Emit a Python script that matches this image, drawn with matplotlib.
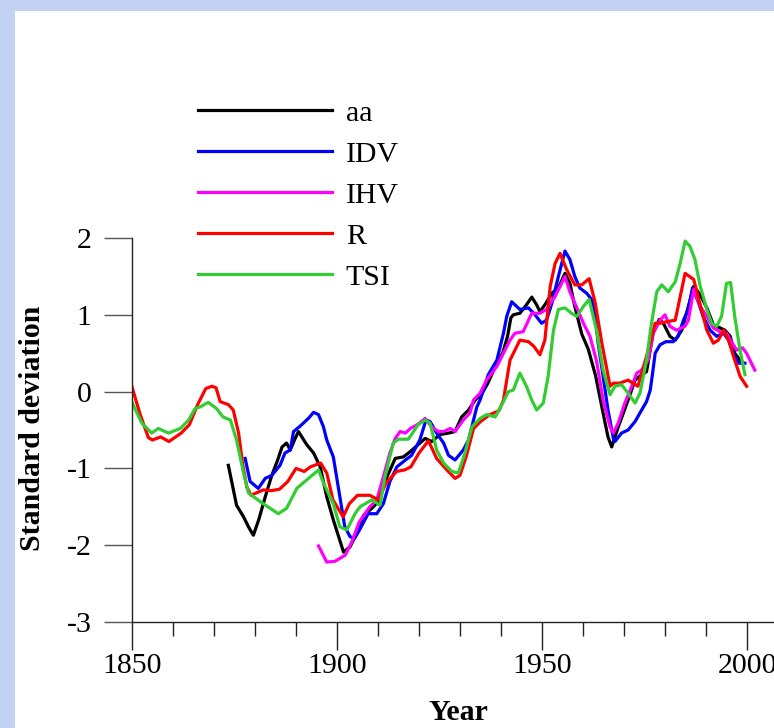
import matplotlib
matplotlib.use("Agg")
import matplotlib.pyplot as plt
from matplotlib.patches import Rectangle
from matplotlib.ticker import MultipleLocator

plt.rcParams['font.family'] = ['Liberation Serif', 'DejaVu Serif']
plt.rcParams['axes.unicode_minus'] = False

# values (year, standard deviation)
aa_years = [1873.5, 1875.5, 1877.2, 1878.4, 1879.6, 1880.9, 1882.5, 1884.1, 1885.4, 1886.6,
            1887.7, 1888.6, 1889.8, 1890.6, 1892.6, 1894.3, 1895.9, 1897.5, 1899.1, 1901.6,
            1903.2, 1905.2, 1906.5, 1908.5, 1910.1, 1912.2, 1914.2, 1916.2, 1917.9, 1919.8,
            1921.5, 1923.1, 1925.1, 1927.2, 1928.8, 1930.4, 1932.1, 1933.7, 1935.2, 1936.8,
            1938.8, 1940.4, 1941.6, 1942.4, 1943.0, 1944.6, 1946.2, 1947.5, 1948.7, 1949.5,
            1950.7, 1952.4, 1954.0, 1955.6, 1956.8, 1958.0, 1959.7, 1961.3, 1963.1, 1964.9,
            1966.1, 1967.0, 1968.6, 1971.0, 1972.7, 1974.3, 1975.5, 1977.1, 1978.6, 1979.6,
            1981.2, 1982.5, 1984.1, 1985.7, 1987.0, 1988.6, 1990.2, 1991.8, 1993.4, 1994.6,
            1995.9, 1997.0, 1998.3, 1998.8]
aa_vals = [-0.96, -1.48, -1.63, -1.76, -1.87, -1.67, -1.37, -1.09, -0.91, -0.72,
           -0.67, -0.76, -0.61, -0.52, -0.69, -0.80, -0.98, -1.37, -1.67, -2.09,
           -2.02, -1.80, -1.61, -1.52, -1.43, -1.11, -0.87, -0.85, -0.78, -0.69,
           -0.61, -0.65, -0.56, -0.54, -0.52, -0.33, -0.24, -0.11, -0.04, 0.11,
           0.35, 0.50, 0.72, 0.96, 1.00, 1.02, 1.13, 1.23, 1.13, 1.04,
           1.13, 1.28, 1.35, 1.54, 1.41, 1.11, 0.75, 0.55, 0.20, -0.28,
           -0.59, -0.72, -0.46, -0.11, 0.15, 0.22, 0.26, 0.76, 0.94, 0.89,
           0.72, 0.67, 0.80, 1.11, 1.37, 1.26, 1.09, 0.87, 0.83, 0.80,
           0.72, 0.50, 0.41, 0.39]

idv_years = [1877.6, 1878.8, 1880.8, 1882.5, 1884.1, 1886.1, 1887.3, 1888.6, 1889.4, 1891.0,
             1893.0, 1894.3, 1895.5, 1896.7, 1897.5, 1899.1, 1900.7, 1901.9, 1903.2, 1904.3,
             1905.5, 1907.6, 1909.7, 1911.3, 1912.9, 1914.6, 1916.7, 1918.2, 1920.2, 1921.7,
             1922.7, 1924.3, 1926.0, 1927.2, 1928.8, 1930.8, 1932.1, 1933.3, 1934.1, 1934.9,
             1936.9, 1939.0, 1940.6, 1941.4, 1942.6, 1944.6, 1946.7, 1948.3, 1949.9, 1951.1,
             1952.4, 1954.0, 1955.6, 1956.8, 1958.0, 1959.2, 1960.9, 1962.1, 1962.8, 1963.7,
             1964.9, 1966.1, 1967.4, 1967.8, 1969.4, 1971.0, 1972.7, 1974.3, 1975.5, 1976.4,
             1977.0, 1977.6, 1978.8, 1980.2, 1982.0, 1983.2, 1984.5, 1985.7, 1986.7, 1988.1,
             1989.3, 1991.0, 1992.6, 1994.3, 1995.5, 1996.7, 1997.9, 1999.5]
idv_vals = [-0.87, -1.17, -1.26, -1.13, -1.09, -0.96, -0.80, -0.76, -0.52, -0.45,
            -0.35, -0.27, -0.30, -0.46, -0.63, -0.85, -1.37, -1.76, -1.89, -1.91,
            -1.80, -1.59, -1.59, -1.46, -1.17, -0.98, -0.89, -0.83, -0.63, -0.37,
            -0.39, -0.54, -0.67, -0.83, -0.89, -0.76, -0.63, -0.37, -0.20, -0.11,
            0.22, 0.41, 0.76, 0.98, 1.17, 1.07, 1.09, 1.00, 0.89, 0.93,
            1.15, 1.50, 1.83, 1.72, 1.50, 1.35, 1.28, 1.20, 1.07, 0.63,
            0.20, -0.24, -0.61, -0.65, -0.54, -0.50, -0.39, -0.24, -0.13, 0.02,
            0.25, 0.50, 0.61, 0.65, 0.65, 0.72, 0.93, 1.07, 1.35, 1.17,
            0.98, 0.80, 0.72, 0.76, 0.67, 0.50, 0.37, 0.37]

ihv_years = [1895.5, 1897.5, 1899.5, 1902.0, 1903.6, 1905.4, 1908.0, 1909.7, 1911.3, 1912.9,
             1914.2, 1915.4, 1916.7, 1917.9, 1919.6, 1921.5, 1923.1, 1924.7, 1926.0, 1927.6,
             1928.8, 1930.8, 1932.4, 1933.3, 1934.9, 1936.5, 1939.0, 1940.6, 1942.2, 1943.4,
             1945.4, 1947.5, 1949.5, 1951.1, 1953.2, 1954.8, 1955.6, 1956.8, 1958.5, 1960.1,
             1961.7, 1963.3, 1964.9, 1966.6, 1967.4, 1968.6, 1970.2, 1971.9, 1973.1, 1974.3,
             1975.9, 1977.1, 1978.8, 1980.0, 1981.2, 1982.8, 1984.9, 1985.7, 1987.0, 1988.6,
             1990.2, 1991.8, 1993.4, 1995.0, 1996.2, 1997.5, 1998.9, 1999.9, 2001.9]
ihv_vals = [-2.01, -2.22, -2.21, -2.13, -1.96, -1.70, -1.50, -1.41, -1.11, -0.80,
            -0.61, -0.52, -0.54, -0.48, -0.43, -0.35, -0.46, -0.52, -0.52, -0.48,
            -0.52, -0.37, -0.28, -0.11, -0.02, 0.15, 0.33, 0.50, 0.67, 0.76,
            0.78, 1.02, 1.02, 1.07, 1.24, 1.41, 1.50, 1.30, 1.09, 0.89,
            0.72, 0.40, -0.11, -0.46, -0.54, -0.41, -0.15, 0.07, 0.24, 0.28,
            0.41, 0.76, 0.93, 1.00, 0.85, 0.80, 0.85, 0.93, 1.33, 1.11,
            0.98, 0.83, 0.78, 0.76, 0.65, 0.54, 0.57, 0.50, 0.28]

r_years = [1850.0, 1852.0, 1854.0, 1855.0, 1857.0, 1859.0, 1862.0, 1864.0, 1866.0, 1868.0,
           1869.5, 1870.5, 1871.5, 1873.5, 1874.7, 1876.0, 1877.0, 1878.0, 1879.0, 1882.0,
           1884.0, 1886.0, 1888.0, 1890.0, 1892.0, 1893.5, 1896.0, 1897.5, 1899.0, 1901.5,
           1903.0, 1905.0, 1908.0, 1910.0, 1912.0, 1914.5, 1916.5, 1918.0, 1920.0, 1922.3,
           1924.3, 1926.8, 1928.8, 1930.0, 1931.6, 1933.3, 1935.0, 1937.3, 1939.5, 1940.6,
           1942.2, 1944.6, 1946.7, 1948.0, 1949.5, 1950.7, 1952.0, 1953.2, 1954.4, 1956.0,
           1958.0, 1959.7, 1961.5, 1963.0, 1964.6, 1966.6, 1967.4, 1969.0, 1971.0, 1972.2,
           1973.4, 1975.5, 1977.6, 1978.8, 1980.4, 1982.5, 1984.9, 1987.0, 1988.6, 1990.2,
           1991.8, 1993.0, 1994.3, 1995.5, 1996.7, 1998.3, 1999.9]
r_vals = [0.06, -0.30, -0.60, -0.63, -0.59, -0.65, -0.54, -0.43, -0.17, 0.04,
          0.07, 0.05, -0.13, -0.17, -0.24, -0.54, -0.95, -1.24, -1.35, -1.28,
          -1.29, -1.27, -1.17, -1.00, -1.04, -0.98, -0.93, -1.06, -1.41, -1.63,
          -1.46, -1.35, -1.35, -1.41, -1.19, -1.04, -1.02, -0.98, -0.80, -0.64,
          -0.87, -1.02, -1.13, -1.09, -0.83, -0.48, -0.39, -0.30, -0.25, -0.11,
          0.41, 0.67, 0.65, 0.59, 0.48, 0.67, 1.37, 1.67, 1.80, 1.59,
          1.39, 1.39, 1.47, 1.15, 0.63, 0.07, 0.11, 0.11, 0.15, 0.11,
          0.07, 0.46, 0.89, 0.89, 0.91, 0.93, 1.54, 1.46, 1.13, 0.80,
          0.63, 0.67, 0.80, 0.67, 0.46, 0.20, 0.07]

tsi_years = [1850.0, 1852.4, 1854.8, 1856.4, 1858.9, 1861.8, 1863.8, 1865.4, 1866.6, 1868.6,
             1870.6, 1872.2, 1874.0, 1875.5, 1877.2, 1878.4, 1881.2, 1883.7, 1885.7, 1887.7,
             1890.2, 1892.6, 1895.5, 1896.7, 1899.1, 1900.7, 1902.4, 1904.4, 1905.6, 1908.5,
             1910.5, 1911.7, 1913.7, 1915.0, 1917.4, 1919.8, 1921.5, 1922.7, 1924.3, 1926.0,
             1928.0, 1929.6, 1931.2, 1932.9, 1934.9, 1936.5, 1938.6, 1940.6, 1941.8, 1943.0,
             1944.6, 1946.2, 1947.5, 1948.7, 1950.3, 1951.5, 1952.8, 1954.0, 1955.6, 1957.2,
             1958.5, 1960.1, 1961.5, 1963.3, 1964.9, 1966.6, 1967.8, 1969.4, 1971.0, 1972.7,
             1973.9, 1975.5, 1976.7, 1978.0, 1979.2, 1980.8, 1982.5, 1983.7, 1984.9, 1986.1,
             1987.3, 1988.6, 1990.2, 1991.4, 1992.6, 1993.8, 1995.0, 1996.0, 1997.0, 1998.3,
             1999.5]
tsi_vals = [-0.14, -0.41, -0.54, -0.48, -0.54, -0.48, -0.37, -0.22, -0.20, -0.14,
            -0.22, -0.33, -0.37, -0.63, -1.06, -1.32, -1.43, -1.52, -1.59, -1.52,
            -1.26, -1.15, -1.02, -1.19, -1.46, -1.76, -1.80, -1.59, -1.50, -1.41,
            -1.48, -1.11, -0.67, -0.62, -0.62, -0.43, -0.37, -0.41, -0.76, -0.93,
            -1.04, -1.06, -0.80, -0.46, -0.35, -0.30, -0.33, -0.13, 0.00, 0.02,
            0.24, 0.07, -0.11, -0.24, -0.15, 0.20, 0.80, 1.07, 1.09, 1.02,
            0.98, 1.11, 1.20, 0.80, 0.28, -0.04, 0.07, 0.09, -0.02, -0.15,
            -0.02, 0.41, 0.89, 1.30, 1.39, 1.30, 1.43, 1.67, 1.96, 1.89,
            1.72, 1.37, 1.07, 0.89, 0.85, 0.98, 1.41, 1.42, 0.98, 0.54,
            0.22]

series = [
    ('aa', aa_years, aa_vals, 'black'),
    ('IDV', idv_years, idv_vals, '#0000ff'),
    ('IHV', ihv_years, ihv_vals, '#ff00ff'),
    ('R', r_years, r_vals, '#ff0000'),
    ('TSI', tsi_years, tsi_vals, '#33cc33'),
]

W, H = 774, 728
fig = plt.figure(figsize=(W / 100, H / 100), dpi=100)
fig.patch.set_facecolor('#c3d1f3')
# white slide area
fig.add_artist(Rectangle((15 / W, 0), 1 - 15 / W, 1 - 11 / H,
                         transform=fig.transFigure, facecolor='white',
                         edgecolor='none', zorder=0))

ax = fig.add_axes([132 / W, 1 - 622 / H, 1 - 132 / W, (622 - 238) / H])
ax.set_facecolor('none')

for name, xs, ys, col in series:
    ax.plot(xs, ys, color=col, lw=2.3, label=name)

ax.set_xlim(1850, 1850 + (W - 132) / 4.1)
ax.set_ylim(-3, 2)
ax.set_xticks([1850, 1900, 1950, 2000])
ax.xaxis.set_minor_locator(MultipleLocator(10))
ax.set_yticks([-3, -2, -1, 0, 1, 2])

for side in ('top', 'right'):
    ax.spines[side].set_visible(False)
for side in ('left', 'bottom'):
    ax.spines[side].set_linewidth(1.0)
    ax.spines[side].set_color('#222222')

ax.tick_params(axis='x', which='major', direction='out', length=20, width=1.0,
               color='#222222', labelsize=21.5, pad=2)
ax.tick_params(axis='x', which='minor', direction='out', length=10, width=1.0,
               color='#222222')
ax.tick_params(axis='y', which='major', direction='out', length=20, width=1.0,
               color='#555555', labelsize=21.5, pad=9)

fig.text(33 / W, 1 - 428 / H, 'Standard deviation', rotation=90,
         ha='center', va='center', fontsize=21.5, fontweight='bold')
fig.text(458 / W, 1 - 713 / H, 'Year', ha='center', va='center',
         fontsize=21.5, fontweight='bold')

ax.legend(loc='upper left', bbox_to_anchor=(198 / W, 1 - 100 / H),
          bbox_transform=fig.transFigure, frameon=False, fontsize=21.5,
          handlelength=4.5, handletextpad=0.45, labelspacing=0.47,
          borderpad=0, borderaxespad=0)

fig.savefig('out.png', dpi=100)
